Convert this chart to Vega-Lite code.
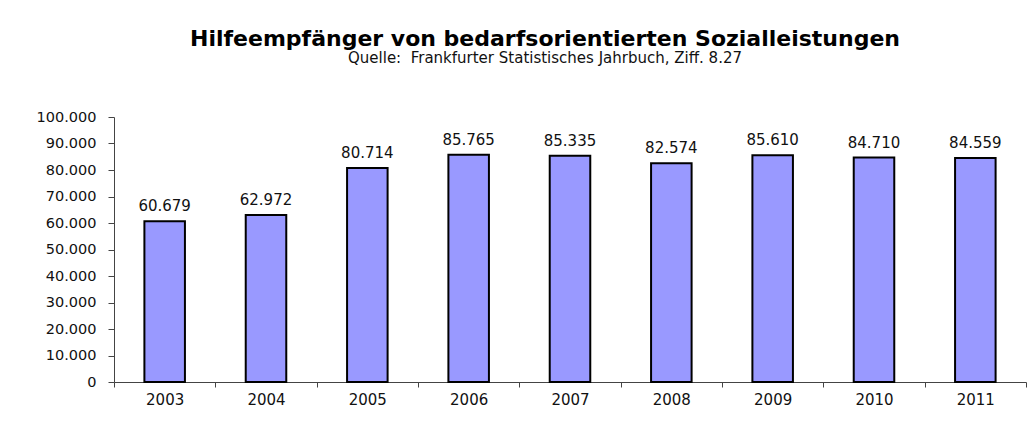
{
  "$schema": "https://vega.github.io/schema/vega-lite/v6.json",
  "width": 912,
  "height": 265,
  "autosize": {"type": "none"},
  "padding": {"left": 114, "top": 117, "right": 7, "bottom": 39},
  "background": "white",
  "config": {
    "locale": {"number": {"decimal": ",", "thousands": ".", "grouping": [3], "currency": ["", " €"]}},
    "view": {"stroke": null},
    "font": "DejaVu Sans"
  },
  "title": {
    "text": "Hilfeempfänger von bedarfsorientierten Sozialleistungen",
    "subtitle": "Quelle:\u00a0 Frankfurter Statistisches Jahrbuch, Ziff. 8.27",
    "anchor": "middle",
    "dx": -25,
    "offset": 42,
    "font": "DejaVu Sans",
    "fontSize": 22,
    "fontWeight": "bold",
    "color": "black",
    "subtitleFont": "DejaVu Sans",
    "subtitleFontSize": 15,
    "subtitleColor": "#111",
    "subtitlePadding": 0
  },
  "data": {
    "values": [
      {"Jahr": "2003", "Anzahl": 60679},
      {"Jahr": "2004", "Anzahl": 62972},
      {"Jahr": "2005", "Anzahl": 80714},
      {"Jahr": "2006", "Anzahl": 85765},
      {"Jahr": "2007", "Anzahl": 85335},
      {"Jahr": "2008", "Anzahl": 82574},
      {"Jahr": "2009", "Anzahl": 85610},
      {"Jahr": "2010", "Anzahl": 84710},
      {"Jahr": "2011", "Anzahl": 84559}
    ]
  },
  "encoding": {
    "x": {
      "field": "Jahr",
      "type": "ordinal",
      "scale": {"paddingInner": 0, "paddingOuter": 0},
      "axis": {
        "title": null,
        "labelAngle": 0,
        "tickBand": "extent",
        "tickSize": 5,
        "tickColor": "#444",
        "domainColor": "#444",
        "labelFont": "DejaVu Sans",
        "labelFontSize": 15,
        "labelColor": "#111",
        "labelPadding": 5,
        "grid": false
      }
    },
    "y": {
      "field": "Anzahl",
      "type": "quantitative",
      "scale": {"domain": [0, 100000], "nice": false},
      "axis": {
        "title": null,
        "values": [0, 10000, 20000, 30000, 40000, 50000, 60000, 70000, 80000, 90000, 100000],
        "format": ",.0f",
        "grid": false,
        "tickSize": 6,
        "tickColor": "#444",
        "domainColor": "#444",
        "labelFont": "DejaVu Sans",
        "labelFontSize": 14.5,
        "labelColor": "#111",
        "labelPadding": 12
      }
    }
  },
  "layer": [
    {
      "mark": {"type": "bar", "width": {"band": 0.4}, "fill": "#9999ff", "stroke": "black", "strokeWidth": 2}
    },
    {
      "mark": {"type": "text", "baseline": "bottom", "dy": -7, "font": "DejaVu Sans", "fontSize": 15, "color": "#111"},
      "encoding": {"text": {"field": "Anzahl", "type": "quantitative", "format": ",.0f"}}
    }
  ]
}
